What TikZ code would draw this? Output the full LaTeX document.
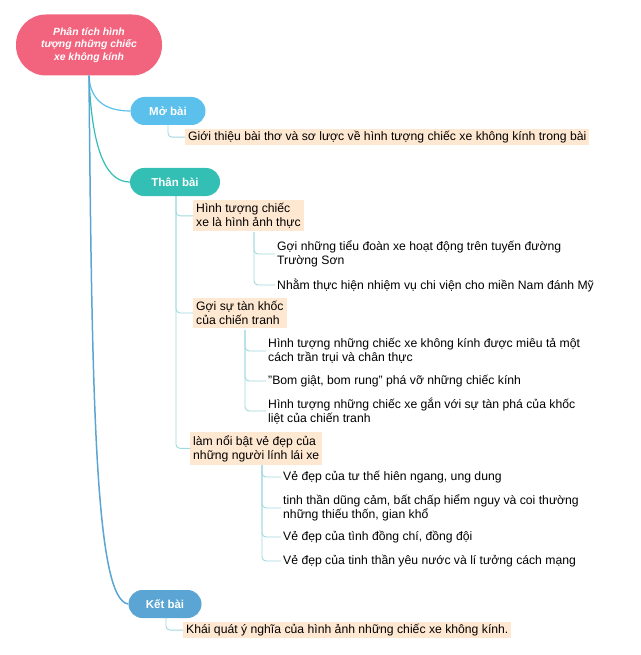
\documentclass[tikz,border=0pt]{standalone}
\usepackage{fontspec}
\setmainfont{Liberation Sans}
\begin{document}
\begin{tikzpicture}[x=1pt,y=-1pt,
  pill/.style={rounded corners=14pt,text=white,font=\fontsize{11.5}{13}\selectfont\bfseries,minimum height=28pt,inner sep=0pt},
  topic/.style={fill=orange!18!white,anchor=north west,inner sep=3pt,align=left,font=\fontsize{12.2}{14}\selectfont},
  leaf/.style={anchor=west,inner sep=2pt,align=left,font=\fontsize{12.2}{14}\selectfont}]
\definecolor{rootc}{HTML}{F2647E}
\definecolor{mob}{HTML}{5BC0EB}
\definecolor{thb}{HTML}{33BFB4}
\definecolor{ketb}{HTML}{5AA5D3}
\definecolor{ln}{HTML}{9FD8DD}
\useasboundingbox (0,0) rectangle (640,655);
\node[pill,fill=rootc,minimum width=146pt,minimum height=61pt,rounded corners=30pt,font=\fontsize{10.4}{12.5}\selectfont\bfseries\itshape,align=center] (root) at (89,45) {Phân tích hình\\tượng những chiếc\\xe không kính};
\node[pill,fill=mob,minimum width=75pt] (mo) at (168,111) {Mở bài};
\node[pill,fill=thb,minimum width=90pt] (than) at (175,182) {Thân bài};
\node[pill,fill=ketb,minimum width=73pt] (ket) at (165,604) {Kết bài};
\draw[mob,line width=1.2pt] (root.south) .. controls (90,100) and (105,111) .. (mo.west);
\draw[thb,line width=1.2pt] (root.south) .. controls (92,160) and (110,182) .. (than.west);
\draw[ketb,line width=1.5pt] (root.south) .. controls (92,400) and (95,600) .. (ket.west);
\tikzset{lnk/.style={draw=ln,line width=0.9pt,rounded corners=4pt}}
\node[topic,inner ysep=2pt] (gt) at (185,129) {Giới thiệu bài thơ và sơ lược về hình tượng chiếc xe không kính trong bài};
\draw[lnk] (168,125) |- (gt.west);
\node[topic] (h1) at (193,200) {Hình tượng chiếc\\xe là hình ảnh thực};
\node[topic] (h2) at (193,298) {Gợi sự tàn khốc\\của chiến tranh};
\node[topic] (h3) at (190,432) {làm nổi bật vẻ đẹp của\\những người lính lái xe};
\draw[lnk] (176,196) |- (h1.west);
\draw[lnk] (176,196) |- (h2.west);
\draw[lnk] (176,196) |- (h3.west);
\node[leaf] (a1) at (275,254) {Gợi những tiểu đoàn xe hoạt động trên tuyến đường\\Trường Sơn};
\node[leaf] (a2) at (275,285) {Nhằm thực hiện nhiệm vụ chi viện cho miền Nam đánh Mỹ};
\draw[lnk] (254,232) |- (a1.west);
\draw[lnk] (254,232) |- (a2.west);
\node[leaf] (b1) at (266,351) {Hình tượng những chiếc xe không kính được miêu tả một\\cách trần trụi và chân thực};
\node[leaf] (b2) at (266,381) {"Bom giật, bom rung" phá vỡ những chiếc kính};
\node[leaf] (b3) at (266,411) {Hình tượng những chiếc xe gắn với sự tàn phá của khốc\\liệt của chiến tranh};
\draw[lnk] (245,330) |- (b1.west);
\draw[lnk] (245,330) |- (b2.west);
\draw[lnk] (245,330) |- (b3.west);
\node[leaf] (c1) at (281,477) {Vẻ đẹp của tư thế hiên ngang, ung dung};
\node[leaf] (c2) at (281,508) {tinh thần dũng cảm, bất chấp hiểm nguy và coi thường\\những thiếu thốn, gian khổ};
\node[leaf] (c3) at (281,537) {Vẻ đẹp của tình đồng chí, đồng đội};
\node[leaf] (c4) at (281,561) {Vẻ đẹp của tinh thần yêu nước và lí tưởng cách mạng};
\draw[lnk] (262,465) |- (c1.west);
\draw[lnk] (262,465) |- (c2.west);
\draw[lnk] (262,465) |- (c3.west);
\draw[lnk] (262,465) |- (c4.west);
\node[topic,inner ysep=2pt] (kq) at (183,622) {Khái quát ý nghĩa của hình ảnh những chiếc xe không kính.};
\draw[lnk] (166,618) |- (kq.west);
\end{tikzpicture}
\end{document}
